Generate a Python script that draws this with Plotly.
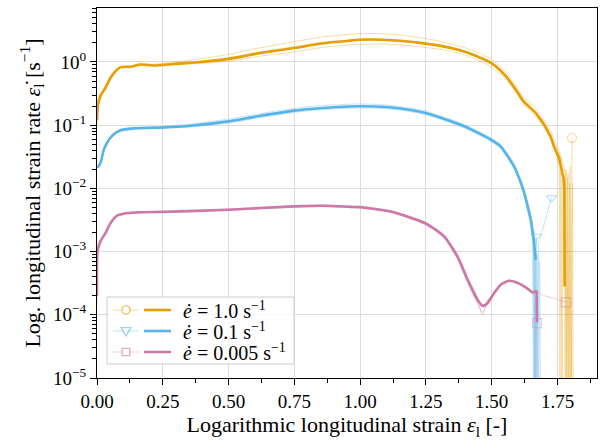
import plotly.graph_objects as go

# ---------------- data ----------------
# strain rate 1.0 1/s (orange)
xo_base = [0.0, 0.003, 0.013, 0.032, 0.051, 0.07, 0.089, 0.127, 0.165, 0.215, 0.29, 0.393, 0.5,
           0.61, 0.75, 0.86, 0.95, 1.0, 1.08, 1.16, 1.248, 1.32, 1.395, 1.45, 1.5, 1.55, 1.585,
           1.62, 1.645, 1.67, 1.70, 1.724]
yo_mean = [0.12, 0.2, 0.29, 0.39, 0.56, 0.71, 0.83, 0.84, 0.91, 0.88, 0.93, 1.0, 1.12, 1.36, 1.66,
           1.98, 2.15, 2.25, 2.25, 2.15, 1.95, 1.75, 1.47, 1.2, 0.95, 0.62, 0.4, 0.24, 0.19, 0.15,
           0.1, 0.066]
xo_mean_tail = [1.737, 1.756, 1.765, 1.773, 1.776, 1.777]
yo_mean_tail = [0.045, 0.03, 0.02, 0.014, 0.0105, 0.00028]

yo_rep1 = [0.12, 0.2, 0.3, 0.42, 0.58, 0.72, 0.84, 0.86, 0.93, 0.92, 1.0, 1.12, 1.32, 1.64, 2.1, 2.5,
           2.7, 2.8, 2.8, 2.65, 2.35, 2.05, 1.7, 1.38, 1.1, 0.72, 0.46, 0.28, 0.23, 0.18, 0.12, 0.08]
xo_rep1_tail = [1.74, 1.756, 1.77, 1.78, 1.784, 1.788, 1.792, 1.796, 1.8, 1.803, 1.805]
yo_rep1_tail = [0.055, 0.04, 0.025, 0.018, 2e-6, 0.015, 2e-6, 0.012, 2e-6, 2e-6, 0.063]

yo_rep2 = [0.1, 0.18, 0.32, 0.36, 0.52, 0.68, 0.8, 0.82, 0.88, 0.86, 0.9, 0.95, 1.03, 1.22, 1.45,
           1.7, 1.85, 1.9, 1.92, 1.85, 1.7, 1.55, 1.3, 1.05, 0.82, 0.55, 0.36, 0.22, 0.17, 0.13,
           0.09, 0.058]
xo_rep2_tail = [1.74, 1.752, 1.757, 1.759, 1.761, 1.764, 1.767, 1.77]
yo_rep2_tail = [0.04, 0.028, 0.022, 2e-6, 0.018, 2e-6, 0.014, 2e-6]

yo_rep3 = [0.14, 0.25, 0.26, 0.4, 0.57, 0.72, 0.83, 0.85, 0.9, 0.89, 0.95, 1.03, 1.16, 1.42, 1.75,
           2.05, 2.2, 2.3, 2.3, 2.2, 2.0, 1.8, 1.5, 1.22, 0.98, 0.66, 0.42, 0.26, 0.21, 0.16,
           0.11, 0.07]
xo_rep3_tail = [1.74, 1.756, 1.77, 1.776, 1.779, 1.782, 1.786, 1.79, 1.794, 1.798, 1.802, 1.807, 1.81]
yo_rep3_tail = [0.05, 0.035, 0.022, 0.016, 2e-6, 0.02, 2e-6, 0.017, 2e-6, 0.022, 2e-6, 0.012, 2e-6]

# strain rate 0.1 1/s (blue)
xb_base = [0.0, 0.003, 0.013, 0.026, 0.045, 0.064, 0.089, 0.14, 0.25, 0.355, 0.5, 0.61, 0.75,
           0.86, 0.964, 1.0, 1.078, 1.16, 1.248, 1.32, 1.395, 1.45, 1.5, 1.534, 1.585, 1.623, 1.648]
yb_mean = [0.022, 0.022, 0.025, 0.041, 0.059, 0.072, 0.083, 0.089, 0.092, 0.098, 0.115, 0.138,
           0.17, 0.187, 0.198, 0.199, 0.196, 0.182, 0.156, 0.125, 0.096, 0.075, 0.058, 0.046,
           0.022, 0.0085, 0.0032]
xb_mean_tail = [1.661, 1.667]
yb_mean_tail = [0.00137, 0.00074]

yb_rep1 = [0.023, 0.023, 0.026, 0.043, 0.061, 0.075, 0.086, 0.092, 0.096, 0.104, 0.125, 0.15,
           0.185, 0.205, 0.215, 0.216, 0.212, 0.196, 0.168, 0.134, 0.103, 0.08, 0.062, 0.049,
           0.025, 0.01, 0.004]
xb_rep1_tail = [1.66, 1.665, 1.67, 1.674, 1.678, 1.682, 1.727]
yb_rep1_tail = [0.002, 2e-6, 0.0016, 2e-6, 0.0014, 0.0015, 0.0071]

yb_rep2 = [0.021, 0.021, 0.024, 0.039, 0.056, 0.069, 0.08, 0.086, 0.089, 0.094, 0.108, 0.13,
           0.16, 0.177, 0.187, 0.188, 0.185, 0.172, 0.147, 0.118, 0.09, 0.07, 0.054, 0.043,
           0.021, 0.009, 0.0038]
xb_rep2_tail = [1.655, 1.659, 1.662, 1.665, 1.668]
yb_rep2_tail = [0.0028, 2e-6, 0.0022, 2e-6, 0.00174]

yb_rep3 = [0.022, 0.022, 0.025, 0.042, 0.06, 0.073, 0.084, 0.09, 0.093, 0.1, 0.118, 0.142,
           0.175, 0.192, 0.202, 0.203, 0.2, 0.186, 0.16, 0.128, 0.098, 0.077, 0.06, 0.047,
           0.023, 0.009, 0.0034]
xb_rep3_tail = [1.658, 1.662, 1.666, 1.67, 1.674, 1.678, 1.682, 1.686, 1.69]
yb_rep3_tail = [0.0016, 2e-6, 0.0011, 2e-6, 0.0009, 2e-6, 0.0007, 2e-6, 2e-6]

# strain rate 0.005 1/s (pink)
xp_base = [0.0, 0.002, 0.013, 0.032, 0.051, 0.076, 0.1, 0.165, 0.25, 0.5, 0.75, 0.862, 0.964,
           1.0, 1.116, 1.248, 1.319, 1.37, 1.408, 1.446, 1.465, 1.484, 1.509, 1.534, 1.566,
           1.598, 1.636, 1.655, 1.671]
yp_mean = [2e-4, 1.0e-3, 1.45e-3, 1.96e-3, 2.8e-3, 3.7e-3, 3.98e-3, 4.2e-3, 4.25e-3, 4.6e-3,
           5.2e-3, 5.3e-3, 5.1e-3, 5.05e-3, 4.3e-3, 2.8e-3, 1.74e-3, 8.3e-4, 3.6e-4, 1.73e-4,
           1.39e-4, 1.54e-4, 2.2e-4, 3.0e-4, 3.46e-4, 3.2e-4, 2.6e-4, 2.26e-4, 2.4e-4]
xp_mean_tail = [1.672]
yp_mean_tail = [7.6e-5]

yp_rep1 = [2e-4, 1.05e-3, 1.5e-3, 2.0e-3, 2.85e-3, 3.75e-3, 4.05e-3, 4.25e-3, 4.3e-3, 4.7e-3,
           5.35e-3, 5.45e-3, 5.25e-3, 5.2e-3, 4.45e-3, 2.95e-3, 1.85e-3, 9.0e-4, 4.0e-4, 1.9e-4,
           1.3e-4, 1.45e-4, 2.1e-4, 2.9e-4, 3.4e-4, 3.3e-4, 2.7e-4, 2.3e-4, 2.45e-4]
xp_rep1_tail = [1.672]
yp_rep1_tail = [7.4e-5]

yp_rep2 = [1.5e-4, 9.5e-4, 1.4e-3, 1.9e-3, 2.7e-3, 3.6e-3, 3.9e-3, 4.1e-3, 4.15e-3, 4.5e-3,
           5.05e-3, 5.15e-3, 4.95e-3, 4.9e-3, 4.15e-3, 2.65e-3, 1.62e-3, 7.6e-4, 3.2e-4, 1.5e-4,
           1.1e-4, 1.6e-4, 2.3e-4, 3.1e-4, 3.5e-4, 3.1e-4, 2.5e-4, 2.2e-4, 2.3e-4]
xp_rep2_tail = [1.70, 1.74, 1.782]
yp_rep2_tail = [2.0e-4, 1.8e-4, 1.58e-4]

yp_rep3 = [2.5e-4, 1.0e-3, 1.45e-3, 1.95e-3, 2.8e-3, 3.7e-3, 4.0e-3, 4.2e-3, 4.25e-3, 4.6e-3,
           5.2e-3, 5.3e-3, 5.1e-3, 5.05e-3, 4.3e-3, 2.8e-3, 1.7e-3, 8.0e-4, 3.5e-4, 1.6e-4,
           1.0e-4, 1.7e-4, 2.2e-4, 3.0e-4, 3.5e-4, 3.2e-4, 2.6e-4, 2.25e-4, 2.35e-4]
xp_rep3_tail = [1.672]
yp_rep3_tail = [2e-6]

legend_labels = ["<i>ė</i> = 1.0 s<sup>−1</sup>", "<i>ė</i> = 0.1 s<sup>−1</sup>",
                 "<i>ė</i> = 0.005 s<sup>−1</sup>"]
x_ticks = [0.0, 0.25, 0.5, 0.75, 1.0, 1.25, 1.5, 1.75]
y_tick_exp = [0, -1, -2, -3, -4, -5]

# ---------------- styling ----------------
COLORS = ["#E69F00", "#56B4E9", "#CC79A7"]
SYMBOLS = ["circle-open", "triangle-down-open", "square-open"]
FONT = "Liberation Serif"
THIN_OP = 0.35
TICK_SIZE = 19
TITLE_SIZE = 22
LEG_SIZE = 20
THICK = 2.6

series = [
    dict(xb=xo_base, mean=(yo_mean, xo_mean_tail, yo_mean_tail),
         reps=[(yo_rep1, xo_rep1_tail, yo_rep1_tail), (yo_rep2, xo_rep2_tail, yo_rep2_tail),
               (yo_rep3, xo_rep3_tail, yo_rep3_tail)]),
    dict(xb=xb_base, mean=(yb_mean, xb_mean_tail, yb_mean_tail),
         reps=[(yb_rep1, xb_rep1_tail, yb_rep1_tail), (yb_rep2, xb_rep2_tail, yb_rep2_tail),
               (yb_rep3, xb_rep3_tail, yb_rep3_tail)]),
    dict(xb=xp_base, mean=(yp_mean, xp_mean_tail, yp_mean_tail),
         reps=[(yp_rep1, xp_rep1_tail, yp_rep1_tail), (yp_rep2, xp_rep2_tail, yp_rep2_tail),
               (yp_rep3, xp_rep3_tail, yp_rep3_tail)]),
]

fig = go.Figure()


def add_curve(xb, yb, xt, yt, color, width, opacity):
    # smooth main part, straight segments for the noisy tail
    fig.add_trace(go.Scatter(x=list(xb), y=list(yb), mode="lines",
                             line=dict(color=color, width=width, shape="spline", smoothing=0.6),
                             opacity=opacity, showlegend=False, hoverinfo="skip"))
    fig.add_trace(go.Scatter(x=[xb[-1]] + list(xt), y=[yb[-1]] + list(yt), mode="lines",
                             line=dict(color=color, width=width),
                             opacity=opacity, showlegend=False, hoverinfo="skip"))


# thin repetition curves with end markers
for i, s in enumerate(series):
    for ybase, xt, yt in s["reps"]:
        add_curve(s["xb"], ybase, xt, yt, COLORS[i], 1, THIN_OP)
        fig.add_trace(go.Scatter(x=[xt[-1]], y=[yt[-1]], mode="markers",
                                 marker=dict(symbol=SYMBOLS[i], size=9, color=COLORS[i],
                                             line=dict(width=1.3)),
                                 opacity=THIN_OP, showlegend=False, hoverinfo="skip"))

# mean curves
for i, s in enumerate(series):
    ym, xt, yt = s["mean"]
    add_curve(s["xb"], ym, xt, yt, COLORS[i], THICK, 1.0)

# ---------------- custom legend (paper-coordinate shapes) ----------------
L_PX, T_PX, PW, PH = 97, 8, 500, 370
def px2x(px):
    return (px - L_PX) / PW
def py2y(py):
    return (T_PX + PH - py) / PH

shapes = [dict(type="rect", xref="paper", yref="paper", x0=px2x(107), x1=px2x(294),
               y0=py2y(364), y1=py2y(297), line=dict(color="#cccccc", width=1),
               fillcolor="rgba(255,255,255,0.85)", layer="above")]
entry_py = [310, 331, 352]
r = 4.2  # marker half size in px
for i in range(3):
    py = entry_py[i]
    c = COLORS[i]
    shapes.append(dict(type="line", xref="paper", yref="paper", x0=px2x(113), x1=px2x(139),
                       y0=py2y(py), y1=py2y(py), line=dict(color=c, width=1),
                       opacity=THIN_OP, layer="above"))
    shapes.append(dict(type="line", xref="paper", yref="paper", x0=px2x(144), x1=px2x(171),
                       y0=py2y(py), y1=py2y(py), line=dict(color=c, width=THICK), layer="above"))
    mx = 126
    if i == 0:
        shapes.append(dict(type="circle", xref="paper", yref="paper",
                           x0=px2x(mx - r), x1=px2x(mx + r), y0=py2y(py + r), y1=py2y(py - r),
                           line=dict(color=c, width=1.3), fillcolor="white",
                           opacity=0.6, layer="above"))
    elif i == 1:
        path = (f"M {px2x(mx - r - 0.6)} {py2y(py - r + 0.8)} L {px2x(mx + r + 0.6)} {py2y(py - r + 0.8)} "
                f"L {px2x(mx)} {py2y(py + r + 0.8)} Z")
        shapes.append(dict(type="path", xref="paper", yref="paper", path=path,
                           line=dict(color=c, width=1.3), fillcolor="white",
                           opacity=0.6, layer="above"))
    else:
        shapes.append(dict(type="rect", xref="paper", yref="paper",
                           x0=px2x(mx - r + 0.5), x1=px2x(mx + r - 0.5),
                           y0=py2y(py + r - 0.5), y1=py2y(py - r + 0.5),
                           line=dict(color=c, width=1.3), fillcolor="white",
                           opacity=0.6, layer="above"))
    fig.add_annotation(x=px2x(181), y=py2y(py), xref="paper", yref="paper",
                       text=legend_labels[i], showarrow=False, xanchor="left",
                       yanchor="middle", font=dict(family=FONT, size=LEG_SIZE, color="black"))

# ---------------- layout ----------------
minor_y = [m * 10.0 ** e for e in range(-5, 1) for m in range(2, 10)]
fig.update_layout(
    width=608, height=443,
    margin=dict(l=L_PX, r=608 - L_PX - PW, t=T_PX, b=443 - T_PX - PH),
    paper_bgcolor="white", plot_bgcolor="white",
    font=dict(family=FONT, size=TICK_SIZE, color="black"),
    showlegend=False,
    shapes=shapes,
    xaxis=dict(range=[0, 1.9], tickvals=x_ticks, ticktext=[f"{v:.2f}" for v in x_ticks],
               ticks="outside", ticklen=6, tickwidth=1.1, tickcolor="black",
               showline=True, linecolor="black", linewidth=1.2, mirror=True,
               showgrid=True, gridcolor="#dcdcdc", gridwidth=1, zeroline=False,
               minor=dict(tickvals=[0.125 + 0.25 * k for k in range(8)], ticks="outside",
                          ticklen=3.5, tickcolor="black", tickwidth=1, showgrid=False),
               tickfont=dict(size=TICK_SIZE),
               title=dict(text="Logarithmic longitudinal strain <i>ε</i><sub>l</sub> [-]",
                          font=dict(size=TITLE_SIZE), standoff=4)),
    yaxis=dict(type="log", range=[-5, 0.854],
               tickvals=[10.0 ** e for e in y_tick_exp],
               ticktext=[f"10<sup>{'−' if e < 0 else ''}{abs(e)}</sup>" for e in y_tick_exp],
               ticks="outside", ticklen=6, tickwidth=1.1, tickcolor="black",
               showline=True, linecolor="black", linewidth=1.2, mirror=True,
               showgrid=True, gridcolor="#dcdcdc", gridwidth=1, zeroline=False,
               minor=dict(tickvals=minor_y, ticks="outside", ticklen=3.5, tickcolor="black",
                          tickwidth=1, showgrid=False),
               tickfont=dict(size=TICK_SIZE),
               title=dict(text="Log. longitudinal strain rate <i>ε̇</i><sub>l</sub> [s<sup>−1</sup>]",
                          font=dict(size=TITLE_SIZE), standoff=6)),
)

fig.write_html("out.html")
